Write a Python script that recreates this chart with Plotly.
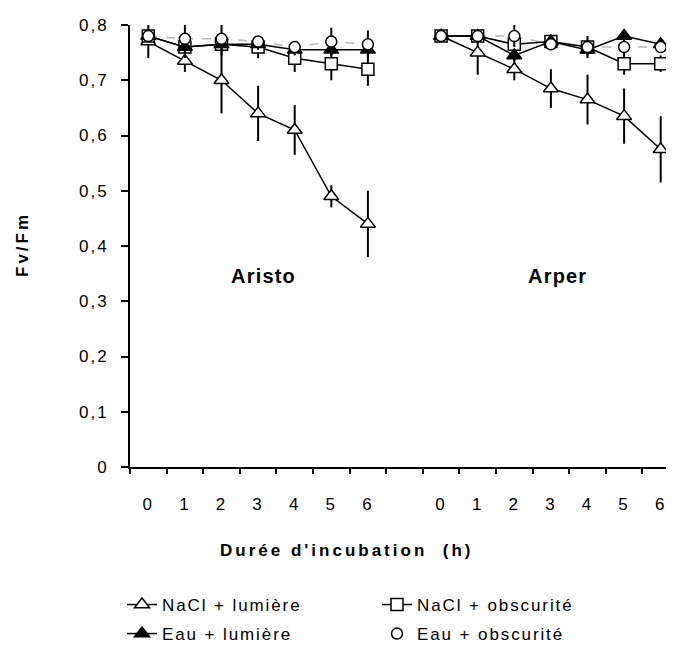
import plotly.graph_objects as go

hours = ["0", "1", "2", "3", "4", "5", "6"]
cultivars = ["Aristo", "Arper"]

# values per cultivar (Aristo, Arper)
nacl_lum_aristo = [0.77, 0.735, 0.70, 0.64, 0.61, 0.49, 0.44]
nacl_lum_aristo_err = [0.03, 0.02, 0.06, 0.05, 0.045, 0.02, 0.06]
nacl_lum_arper = [0.78, 0.75, 0.72, 0.685, 0.665, 0.635, 0.575]
nacl_lum_arper_err = [0.01, 0.04, 0.02, 0.035, 0.045, 0.05, 0.06]

nacl_obs_aristo = [0.78, 0.76, 0.765, 0.76, 0.74, 0.73, 0.72]
nacl_obs_aristo_err = [0.01, 0.02, 0.01, 0.02, 0.025, 0.03, 0.03]
nacl_obs_arper = [0.78, 0.78, 0.765, 0.77, 0.76, 0.73, 0.73]
nacl_obs_arper_err = [0.01, 0.01, 0.02, 0.01, 0.02, 0.02, 0.015]

eau_lum_aristo = [0.78, 0.76, 0.765, 0.765, 0.755, 0.755, 0.755]
eau_lum_aristo_err = [0.01, 0.01, 0.01, 0.01, 0.01, 0.01, 0.01]
eau_lum_arper = [0.78, 0.78, 0.745, 0.77, 0.755, 0.78, 0.765]
eau_lum_arper_err = [0.01, 0.01, 0.01, 0.01, 0.01, 0.01, 0.01]

eau_obs_aristo = [0.78, 0.775, 0.775, 0.77, 0.76, 0.77, 0.765]
eau_obs_aristo_err = [0.01, 0.03, 0.03, 0.01, 0.01, 0.025, 0.025]
eau_obs_arper = [0.78, 0.78, 0.78, 0.765, 0.76, 0.76, 0.76]
eau_obs_arper_err = [0.01, 0.01, 0.02, 0.01, 0.01, 0.01, 0.01]

y_ticks = [0, 0.1, 0.2, 0.3, 0.4, 0.5, 0.6, 0.7, 0.8]
y_ticktext = ["0", "0,1", "0,2", "0,3", "0,4", "0,5", "0,6", "0,7", "0,8"]

# x positions: two groups of 7 slots separated by one empty slot
x_pos = list(range(7)) + [None] + list(range(8, 15))
x_labels = hours + hours
x_label_pos = list(range(7)) + list(range(8, 15))


def join(a, b):
    return a + [None] + b


def sp(text, ls):
    return f'<span style="letter-spacing:{ls}px">{text}</span>'


FONT = "Liberation Sans, Arial, sans-serif"
fig = go.Figure()

series = [
    ("NaCl + lumière", nacl_lum_aristo, nacl_lum_arper, nacl_lum_aristo_err, nacl_lum_arper_err,
     "triangle-up", "white", 13, "legend"),
    ("NaCl + obscurité", nacl_obs_aristo, nacl_obs_arper, nacl_obs_aristo_err, nacl_obs_arper_err,
     "square", "white", 12, "legend"),
    ("Eau + lumière", eau_lum_aristo, eau_lum_arper, eau_lum_aristo_err, eau_lum_arper_err,
     "triangle-up", "black", 13, "legend2"),
]

# gray dashed connector for Eau + obscurité (drawn underneath)
fig.add_trace(go.Scatter(
    x=x_pos, y=join(eau_obs_aristo, eau_obs_arper),
    mode="lines", line=dict(color="#b8b8b8", width=1.5, dash="dash"),
    showlegend=False, hoverinfo="skip", connectgaps=False))

for name, a, b, ea, eb, sym, fill, size, lg in series:
    fig.add_trace(go.Scatter(
        x=x_pos, y=join(a, b), name=sp(name, 1.9), mode="lines+markers",
        connectgaps=False, legend=lg,
        line=dict(color="black", width=1.5),
        marker=dict(symbol=sym, size=size, color=fill, line=dict(color="black", width=1.5)),
        error_y=dict(type="data", array=join(ea, eb), color="black", thickness=2, width=0),
    ))

fig.add_trace(go.Scatter(
    x=x_pos, y=join(eau_obs_aristo, eau_obs_arper), name=sp("Eau + obscurité", 1.9),
    mode="markers", legend="legend2",
    marker=dict(symbol="circle", size=11, color="white", line=dict(color="black", width=1.5)),
    error_y=dict(type="data", array=join(eau_obs_aristo_err, eau_obs_arper_err),
                 color="black", thickness=2, width=0),
))

legend_common = dict(orientation="h", xref="container", yref="container",
                     x=114 / 674, xanchor="left", yanchor="middle",
                     entrywidth=210, entrywidthmode="pixels",
                     font=dict(family=FONT, size=17), itemwidth=30, traceorder="normal",
                     bgcolor="rgba(0,0,0,0)")

fig.update_layout(
    width=674, height=650,
    margin=dict(l=122, r=3, t=17, b=191, autoexpand=False),
    paper_bgcolor="white", plot_bgcolor="white",
    font=dict(family=FONT, size=17, color="black"),
    showlegend=True,
    legend=dict(legend_common, y=1 - 597 / 650),
    legend2=dict(legend_common, y=1 - 626 / 650),
)

fig.update_xaxes(
    range=[-0.5, 14.5], tickmode="array", tickvals=x_label_pos,
    ticktext=[sp(t, 2) for t in x_labels],
    ticks="", showgrid=False, zeroline=False, showline=True, linecolor="black", linewidth=2,
    ticklabelstandoff=21, tickfont=dict(size=17),
    minor=dict(tickmode="array", tickvals=[i - 0.5 for i in range(16)], ticks="outside",
               ticklen=5, tickwidth=2, tickcolor="black", showgrid=False),
)
fig.update_yaxes(
    range=[0, 0.8], tickmode="array", tickvals=y_ticks,
    ticktext=[sp(t, 2) for t in y_ticktext],
    ticks="outside", ticklen=7, tickwidth=2, tickcolor="black",
    showgrid=False, zeroline=False, showline=True, linecolor="black", linewidth=2,
    ticklabelstandoff=9, tickfont=dict(size=17),
)

fig.add_annotation(x=3.14, y=0.345, xref="x", yref="y", text="<b>" + sp("Aristo", 1.2) + "</b>",
                   showarrow=False, font=dict(size=20, family=FONT))
fig.add_annotation(x=11.17, y=0.345, xref="x", yref="y", text="<b>" + sp("Arper", 1.2) + "</b>",
                   showarrow=False, font=dict(size=20, family=FONT))
fig.add_annotation(x=(338 - 122) / 549, y=(459 - 542) / 442, xref="paper", yref="paper",
                   xanchor="center", yanchor="middle",
                   text="<b>" + sp("Durée d'incubation  (h)", 3) + "</b>", showarrow=False,
                   font=dict(size=17, family=FONT))
fig.add_annotation(x=(14 - 122) / 549, y=(459 - 237) / 442, xref="paper", yref="paper",
                   xanchor="center", yanchor="middle",
                   text="<b>" + sp("Fv/Fm", 3) + "</b>", showarrow=False, textangle=-90,
                   font=dict(size=17, family=FONT))

fig.write_html("out.html")
